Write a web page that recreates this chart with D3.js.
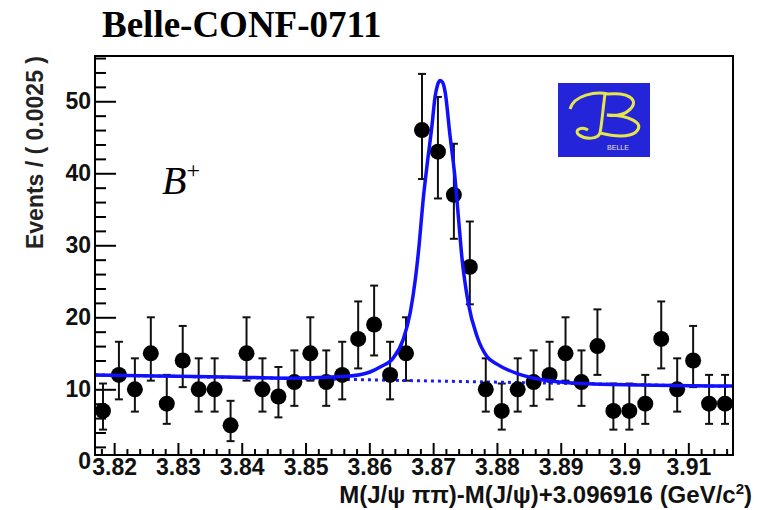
<!DOCTYPE html>
<html>
<head>
<meta charset="utf-8">
<script src="https://cdn.jsdelivr.net/npm/d3@7"></script>
<style>
  body { margin: 0; background: #fff; }
  svg { display: block; }
  .axis text { font-family: "Liberation Sans", Arial, sans-serif; font-weight: bold; font-size: 23px; fill: #111; }
  .axis path { display: none; }
  .axis line { stroke: #000; stroke-width: 2; }
</style>
</head>
<body>
<div id="chart"></div>
<script>
// bin centres (GeV/c^2), 0.0025 wide
var mass = [3.81825, 3.82075, 3.82325, 3.82575, 3.82825, 3.83075, 3.83325, 3.83575,
            3.83825, 3.84075, 3.84325, 3.84575, 3.84825, 3.85075, 3.85325, 3.85575,
            3.85825, 3.86075, 3.86325, 3.86575, 3.86825, 3.87075, 3.87325, 3.87575,
            3.87825, 3.88075, 3.88325, 3.88575, 3.88825, 3.89075, 3.89325, 3.89575,
            3.89825, 3.90075, 3.90325, 3.90575, 3.90825, 3.91075, 3.91325, 3.91575];
var events = [7, 12, 10, 15, 8, 14, 10, 10, 5, 15, 10, 9, 11, 15, 11, 12, 17, 19, 12, 15,
              46, 43, 37, 27, 10, 7, 10, 11, 12, 15, 11, 16, 7, 7, 8, 17, 10, 14, 8, 8];
// asymmetric (poisson) error bars
var errLow  = [2.6, 3.4, 3.1, 3.8, 2.8, 3.7, 3.1, 3.1, 2.2, 3.8, 3.1, 2.9, 3.3, 3.8, 3.3, 3.4, 4.1, 4.3, 3.4, 3.8,
               6.8, 6.5, 6.1, 5.2, 3.1, 2.6, 3.1, 3.3, 3.4, 3.8, 3.3, 4.0, 2.6, 2.6, 2.8, 4.1, 3.1, 3.7, 2.8, 2.8];
var errHigh = [3.8, 4.6, 4.3, 5.0, 4.0, 4.8, 4.3, 4.3, 3.4, 5.0, 4.3, 4.1, 4.4, 5.0, 4.4, 4.6, 5.2, 5.4, 4.6, 5.0,
               7.8, 7.6, 7.1, 6.3, 4.3, 3.8, 4.3, 4.4, 4.6, 5.0, 4.4, 5.1, 3.8, 3.8, 4.0, 5.2, 4.3, 4.8, 4.0, 4.0];

// fitted curve (signal + background)
var fitMass = [3.8170, 3.8300, 3.8408, 3.8480, 3.8565, 3.8601, 3.8617, 3.8637, 3.8653, 3.8664,
               3.8672, 3.8678, 3.8684, 3.8691, 3.8698, 3.8703, 3.8707, 3.8711, 3.8715, 3.8719,
               3.8726, 3.8734, 3.8740, 3.8745, 3.8755, 3.8769, 3.8784, 3.8800, 3.8831, 3.8860,
               3.8900, 3.8962, 3.9170];
var fitEvents = [12.0, 11.8, 11.65, 11.55, 11.8, 12.4, 13.1, 14.3, 16.9, 20.6,
                 25.2, 30.0, 36.0, 41.5, 46.5, 50.6, 52.3, 52.9, 52.6, 51.2,
                 45.6, 39.6, 33.5, 28.4, 22.0, 17.3, 14.6, 13.5, 12.2, 11.5,
                 11.0, 10.7, 10.45];
// background component (dotted)
var bgMass = [3.8170, 3.9170];
var bgEvents = [12.0, 10.4];

var yTicks = [0, 10, 20, 30, 40, 50];
var xTicks = [3.82, 3.83, 3.84, 3.85, 3.86, 3.87, 3.88, 3.89, 3.90, 3.91];

(function() {

var W = 758, H = 510;
var pLeft = 95, pRight = 733, pTop = 56, pBottom = 455;

var svg = d3.select("#chart").append("svg")
    .attr("width", W)
    .attr("height", H);

var x = d3.scaleLinear().domain([3.817, 3.917]).range([pLeft, pRight]);
var y = d3.scaleLinear().domain([0, 56.3]).range([461.3, 55.9]);

// title
svg.append("text")
  .attr("x", 102)
  .attr("y", 37)
  .style("font-family", "'Liberation Serif', 'Times New Roman', serif")
  .style("font-weight", "bold")
  .style("font-size", "37px")
  .text("Belle-CONF-0711");

svg.append("defs").append("clipPath").attr("id", "plotclip")
  .append("rect").attr("x", pLeft).attr("y", pTop)
  .attr("width", pRight - pLeft).attr("height", pBottom - pTop);

// minor ticks
var yMinor = d3.range(2, 57, 2).filter(function(v) { return v % 10 !== 0; });
var xMinor = d3.range(3818, 3917, 2).map(function(v) { return v / 1000; })
    .filter(function(v) { return Math.round(v * 1000) % 10 !== 0; });

svg.append("g")
  .attr("class", "axis")
  .attr("transform", "translate(" + pLeft + ",0)")
  .call(d3.axisLeft(y).tickValues(yMinor).tickSize(-11).tickFormat(""));

var yAxis = svg.append("g")
  .attr("class", "axis")
  .attr("transform", "translate(" + pLeft + ",0)")
  .call(d3.axisLeft(y).tickValues(yTicks).tickSize(-21).tickPadding(4));
yAxis.selectAll(".tick").filter(function(d) { return d === 0; }).select("line").remove();

svg.append("g")
  .attr("class", "axis")
  .attr("transform", "translate(0," + pBottom + ")")
  .call(d3.axisBottom(x).tickValues(xMinor).tickSize(-6).tickFormat(""));

svg.append("g")
  .attr("class", "axis")
  .attr("transform", "translate(0," + pBottom + ")")
  .call(d3.axisBottom(x).tickValues(xTicks).tickSize(-12).tickPadding(4)
        .tickFormat(function(d) { return d3.format("")(+d.toFixed(2)); }));

// axis titles
svg.append("text")
  .attr("transform", "translate(43," + pTop + ") rotate(-90)")
  .attr("text-anchor", "end")
  .style("font-family", "'Liberation Sans', Arial, sans-serif")
  .style("font-weight", "bold")
  .style("font-size", "23px")
  .style("fill", "#222")
  .text("Events / ( 0.0025 )");

var xt = svg.append("text")
  .attr("x", 752)
  .attr("y", 503)
  .attr("text-anchor", "end")
  .style("font-family", "'Liberation Sans', Arial, sans-serif")
  .style("font-weight", "bold")
  .style("font-size", "24px")
  .style("fill", "#111");
xt.append("tspan").text("M(J/\u03C8 \u03C0\u03C0)-M(J/\u03C8)+3.096916 (GeV/c");
xt.append("tspan").attr("dy", -9).style("font-size", "15px").text("2");
xt.append("tspan").attr("dy", 9).text(")");

// B+ label
var bl = svg.append("text")
  .attr("x", 162)
  .attr("y", 194)
  .style("font-family", "'Liberation Serif', 'Times New Roman', serif")
  .style("font-style", "italic")
  .style("font-size", "40px");
bl.append("tspan").text("B");
bl.append("tspan").attr("dy", -16).style("font-size", "24px").style("font-style", "normal").text("+");

// Belle logo
var logo = svg.append("g").attr("transform", "translate(558,83)");
logo.append("rect").attr("width", 92).attr("height", 74).attr("fill", "#2424d8");
logo.append("path")
  .attr("d", "M12,26 C16,12 38,8 50,11 C74,9 82,19 70,28 C64,33 54,33 49,32 C70,32 88,40 78,49 C70,55 54,53 42,50")
  .attr("fill", "none").attr("stroke", "#e6e64c").attr("stroke-width", 3);
logo.append("path")
  .attr("d", "M47,11 C45,25 44,40 42,50 C40,56 28,57 21,52 C15,47 24,43 30,47")
  .attr("fill", "none").attr("stroke", "#e6e64c").attr("stroke-width", 3);
logo.append("text")
  .attr("x", 60).attr("y", 67)
  .attr("text-anchor", "middle")
  .style("font-family", "'Liberation Sans', Arial, sans-serif")
  .style("font-size", "7px")
  .style("fill", "#e8e8c8")
  .text("BELLE");

var plot = svg.append("g").attr("clip-path", "url(#plotclip)");

var pts = mass.map(function(m, i) { return {m: m, n: events[i], lo: errLow[i], hi: errHigh[i]}; });

// error bars
plot.selectAll(".ebar")
    .data(pts)
  .enter().append("line")
    .attr("class", "ebar")
    .attr("x1", function(d) { return x(d.m); })
    .attr("x2", function(d) { return x(d.m); })
    .attr("y1", function(d) { return y(d.n - d.lo); })
    .attr("y2", function(d) { return y(d.n + d.hi); })
    .style("stroke", "#111")
    .style("stroke-width", 2);

plot.selectAll(".capTop")
    .data(pts)
  .enter().append("line")
    .attr("class", "capTop")
    .attr("x1", function(d) { return x(d.m) - 4; })
    .attr("x2", function(d) { return x(d.m) + 4; })
    .attr("y1", function(d) { return y(d.n + d.hi); })
    .attr("y2", function(d) { return y(d.n + d.hi); })
    .style("stroke", "#111")
    .style("stroke-width", 2);

plot.selectAll(".capBot")
    .data(pts)
  .enter().append("line")
    .attr("class", "capBot")
    .attr("x1", function(d) { return x(d.m) - 4; })
    .attr("x2", function(d) { return x(d.m) + 4; })
    .attr("y1", function(d) { return y(d.n - d.lo); })
    .attr("y2", function(d) { return y(d.n - d.lo); })
    .style("stroke", "#111")
    .style("stroke-width", 2);

// background (dotted)
plot.append("path")
  .datum(bgMass.map(function(m, i) { return [m, bgEvents[i]]; }))
  .attr("d", d3.line().x(function(d) { return x(d[0]); }).y(function(d) { return y(d[1]); }))
  .style("fill", "none")
  .style("stroke", "#1a1aff")
  .style("stroke-width", 3)
  .style("stroke-dasharray", "3,4");

plot.selectAll(".dot")
    .data(pts)
  .enter().append("circle")
    .attr("class", "dot")
    .attr("cx", function(d) { return x(d.m); })
    .attr("cy", function(d) { return y(d.n); })
    .attr("r", 8)
    .style("fill", "#000");

// full fit
plot.append("path")
  .datum(fitMass.map(function(m, i) { return [m, fitEvents[i]]; }))
  .attr("d", d3.line().curve(d3.curveMonotoneX)
        .x(function(d) { return x(d[0]); }).y(function(d) { return y(d[1]); }))
  .style("fill", "none")
  .style("stroke", "#1010ff")
  .style("stroke-width", 3.5);

// frame
svg.append("rect")
  .attr("x", pLeft).attr("y", pTop)
  .attr("width", pRight - pLeft).attr("height", pBottom - pTop)
  .style("fill", "none")
  .style("stroke", "#000")
  .style("stroke-width", 2);

})();
</script>
</body>
</html>
